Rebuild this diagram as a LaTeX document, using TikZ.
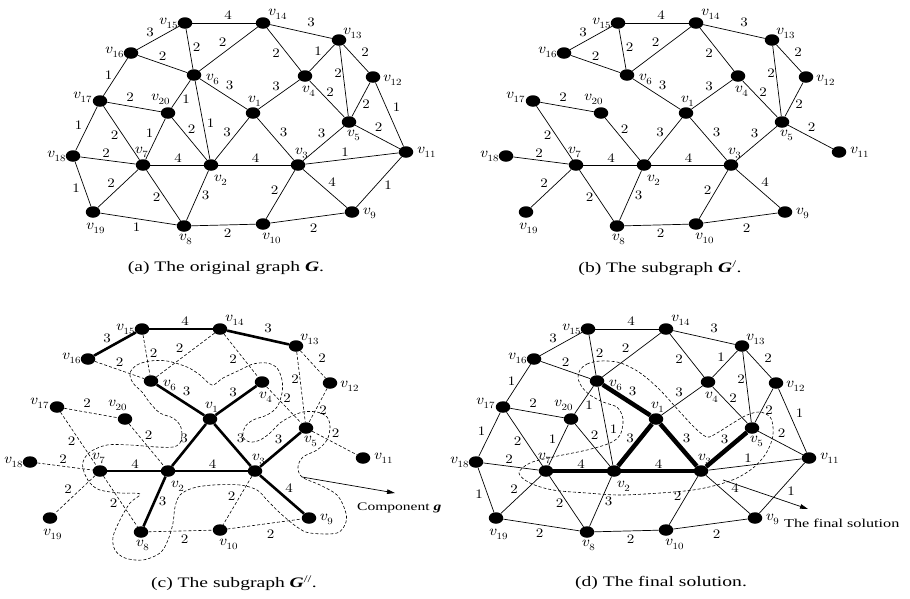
\documentclass[tikz,border=0pt]{standalone}
\usepackage{fontspec}
\setmainfont{Liberation Serif}
\newfontfamily\capfont{Liberation Serif}[FakeStretch=1.35]
\newfontfamily\labfont{lmroman10-regular.otf}[ItalicFont=lmroman10-italic.otf,FakeStretch=1.15]
\usetikzlibrary{shapes.geometric,arrows.meta}
\newcommand\vn[1]{\textit{v}\raisebox{-4pt}{\fontsize{9.5}{9.5}\selectfont #1}}
\tikzset{
  vtx/.style={ellipse,fill=black,inner sep=0pt,minimum width=14.5pt,minimum height=11.5pt},
  vlab/.style={font=\labfont\fontsize{14.5}{14.5}\selectfont,inner sep=0pt},
  wl/.style={font=\labfont\fontsize{13}{13}\selectfont,inner sep=0pt},
  edge/.style={line width=0.7pt},
  boldc/.style={line width=2.6pt},
  boldd/.style={line width=4.5pt},
  dashedge/.style={dash pattern=on 3pt off 2pt,line width=0.6pt},
  curve/.style={dash pattern=on 3pt off 2pt,line width=0.6pt},
  capt/.style={font=\capfont\fontsize{14.5}{14.5}\selectfont,inner sep=0pt},
  note/.style={font=\capfont\fontsize{11.5}{11.5}\selectfont,inner sep=0pt,anchor=west},
  arr/.style={line width=0.7pt,-{Triangle[length=8pt,width=4.5pt]}}
}
\newcommand\mkvertices{%
  \foreach \n/\x/\y/\dx/\dy in {1/253/113/1/12, 2/211/165/9/-15, 3/298/165/3/12,
    4/305/76/3/-15, 5/349/122/4/-13, 6/194/75/18/-4, 7/143/165/-2/13,
    8/184/226/1/-13, 9/352/212/17/-1, 10/263/224/8/-14, 11/406/152/20/0,
    12/373/77/19/-3, 13/339/40/13/7, 14/263/23/14/9, 15/185/23/-17/0,
    16/131/53/-17/1, 17/100/101/-18/4, 18/73/156/-17/0, 19/93/212/2/-16,
    20/168/113/-8/14}
  {\node[vtx,label={[vlab,xshift=\dx pt,yshift=\dy pt]center:\vn{\n}}] (v\n) at (\x,\y) {};}%
}
\newcommand\E[6]{\draw[edge,#1] (v#2) -- node[wl,shift={(#5,#6)}]{#4} (v#3);}
\newcommand\mainedges{%
  \E{tagB}{15}{14}{4}{4}{-8}
  \E{tagB}{14}{13}{3}{10}{-9}
  \E{tagB}{15}{16}{3}{-8}{-6}
  \E{tagC}{15}{6}{2}{7}{-2}
  \E{tagC}{14}{6}{2}{-6}{-7}
  \E{tagC}{14}{4}{2}{-8}{4}
  \E{tagC}{13}{12}{2}{9}{-6}
  \E{tagC}{13}{5}{2}{-6}{-8}
  \E{tagC}{16}{6}{2}{0}{-8}
  \E{tagA}{6}{1}{3}{6}{-9}
  \E{tagB}{4}{1}{3}{-3}{-8}
  \E{tagC}{4}{5}{2}{3}{-7}
  \E{tagC}{12}{5}{2}{5}{5}
  \E{tagC}{17}{20}{2}{-4}{-10}
  \E{tagC}{17}{7}{2}{-7}{2}
  \E{tagC}{20}{2}{2}{2}{-10}
  \E{tagA}{1}{2}{3}{-5}{-7}
  \E{tagA}{1}{3}{3}{8}{-7}
  \E{tagA}{5}{3}{3}{-2}{-10}
  \E{tagC}{5}{11}{2}{1}{-10}
  \E{tagC}{18}{7}{2}{-2}{-7}
  \E{tagA}{7}{2}{4}{1}{-7}
  \E{tagA}{2}{3}{4}{1}{-7}
  \E{tagC}{7}{19}{2}{-7}{-5}
  \E{tagC}{7}{8}{2}{-7}{2}
  \E{tagB}{2}{8}{3}{8}{0}
  \E{tagC}{3}{10}{2}{-6}{-4}
  \E{tagB}{3}{9}{4}{7}{-6}
  \E{tagC}{8}{10}{2}{4}{8}
  \E{tagC}{10}{9}{2}{6}{10}
}
\newcommand\oneedges{%
  \E{edge}{13}{4}{1}{-4}{-7}
  \E{edge}{16}{17}{1}{-7}{-2}
  \E{edge}{6}{20}{1}{5}{5}
  \E{edge}{6}{2}{1}{8}{3}
  \E{edge}{12}{11}{1}{7}{-7}
  \E{edge}{17}{18}{1}{-8}{-3}
  \E{edge}{20}{7}{1}{-6}{-6}
  \E{edge}{3}{11}{1}{-7}{-6}
  \E{edge}{18}{19}{1}{-7}{4}
  \E{edge}{11}{9}{1}{9}{3}
}
\begin{document}
\begin{tikzpicture}[x=1pt,y=-1pt]
\useasboundingbox (0,0) rectangle (910,598);
% (a)
\begin{scope}[name prefix=a-,tagA/.style={},tagB/.style={},tagC/.style={}]
  \mkvertices
  \mainedges
  \oneedges
  \E{edge}{19}{8}{1}{-2}{8}
\end{scope}
% (b)
\begin{scope}[shift={(433,0)},name prefix=b-,tagA/.style={},tagB/.style={},tagC/.style={}]
  \mkvertices
  \mainedges
\end{scope}
% (c)
\begin{scope}[shift={(-43,306)},name prefix=c-,tagA/.style={boldc},tagB/.style={boldc},tagC/.style={dashedge}]
  \mkvertices
  \mainedges
\end{scope}
% (d)
\begin{scope}[shift={(403,306)},name prefix=d-,tagA/.style={boldd},tagB/.style={},tagC/.style={}]
  \mkvertices
  \mainedges
  \oneedges
  \E{edge}{19}{8}{2}{-2}{8}
\end{scope}
% component curve (c)
\draw[curve] plot[smooth cycle,tension=0.55] coordinates {
 (130,373) (137,365) (150,361) (167,361) (187,367) (200,375) (212,385) (223,378)
 (240,370) (253,364) (267,363) (277,368) (282,380) (282,393) (277,407) (267,415)
 (253,420) (245,427) (243,437) (250,442) (260,440) (270,433) (280,423) (290,417)
 (303,412) (317,412) (327,417) (330,427) (327,440) (317,450) (303,457) (298,467)
 (302,477) (320,485) (337,495) (345,510) (346,522) (337,533) (310,533) (297,527)
 (280,513) (267,500) (257,490) (240,485) (213,485) (193,488) (180,495) (175,507)
 (173,523) (168,540) (160,553) (143,560) (125,558) (115,550) (113,537) (120,520)
 (130,503) (140,494) (120,493) (100,490) (90,483) (84,472) (83,462) (90,452)
 (107,445) (130,445) (157,447) (173,447) (180,443) (182,435) (180,425) (173,418)
 (160,413) (150,403) (142,392) (133,383)};
% final solution curve (d)
\draw[curve] plot[smooth cycle,tension=0.55] coordinates {
 (580,370) (587,364) (600,361) (617,362) (630,367) (643,375) (660,390) (680,412)
 (695,428) (707,437) (717,433) (733,423) (747,415) (760,412) (770,417) (773,427)
 (772,440) (765,455) (753,468) (737,478) (717,485) (693,490) (660,493) (620,495)
 (587,493) (553,490) (530,483) (519,473) (530,463) (553,457) (587,450) (610,443)
 (620,435) (623,423) (622,415) (617,407) (603,402) (590,395) (582,387) (578,378)};
% arrows and notes
\coordinate (cgs) at (302,477);
\coordinate (cge) at (395,493);
\draw[arr] (cgs) -- (cge);
\node[note] (cglab) at (357,508) {Component \textbf{\textit{g}}};
\coordinate (fss) at (723,480);
\coordinate (fse) at (808,509);
\draw[arr] (fss) -- (fse);
\node[note,font=\capfont\fontsize{12}{12}\selectfont] (fslab) at (784,523) {The final solution};
% captions
\node[capt] (capa) at (226,268) {(a) The original graph \textbf{\textit{G}}.};
\node[capt] (capb) at (660,268) {(b) The subgraph \textbf{\textit{G}}\textsuperscript{/}.};
\node[capt] (capc) at (234,583) {(c) The subgraph \textbf{\textit{G}}\textsuperscript{//}.};
\node[capt] (capd) at (661,583) {(d) The final solution.};
\end{tikzpicture}
\end{document}
